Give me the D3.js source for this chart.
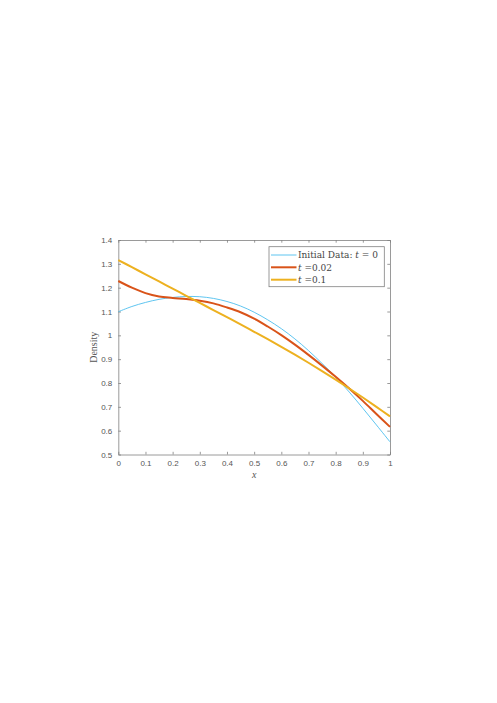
<!DOCTYPE html>
<html lang="en">
<head>
  <meta charset="UTF-8">
  <title>Density at t = 0, 0.02, 0.1</title>
  <script src="https://d3js.org/d3.v7.min.js"></script>
</head>

<body style="margin:0;background:#fff">

<div id="chart"></div>

<script>

// grid points and density values
var xs = [0, 0.05, 0.1, 0.15, 0.2, 0.25, 0.3, 0.35, 0.4, 0.45, 0.5,
          0.55, 0.6, 0.65, 0.7, 0.75, 0.8, 0.85, 0.9, 0.95, 1];
var initialData = [1.099, 1.121, 1.138, 1.151, 1.159, 1.163, 1.162, 1.155, 1.142, 1.123, 1.097,
                   1.065, 1.028, 0.985, 0.936, 0.882, 0.825, 0.762, 0.694, 0.624, 0.553];
var t002 = [1.228, 1.200, 1.177, 1.163, 1.157, 1.152, 1.145, 1.134, 1.117, 1.097, 1.070,
            1.037, 1.001, 0.961, 0.918, 0.873, 0.826, 0.777, 0.725, 0.670, 0.616];
var t01 = [1.316, 1.286, 1.256, 1.226, 1.196, 1.166, 1.136, 1.106, 1.076, 1.046, 1.015,
           0.984, 0.952, 0.919, 0.885, 0.850, 0.814, 0.777, 0.739, 0.700, 0.660];

var xTicks = [0, 0.1, 0.2, 0.3, 0.4, 0.5, 0.6, 0.7, 0.8, 0.9, 1];
var yTicks = [0.5, 0.6, 0.7, 0.8, 0.9, 1, 1.1, 1.2, 1.3, 1.4];

var series = [
  {name: "initial", values: initialData, color: "#4DBEEE", width: 0.9},
  {name: "t002", values: t002, color: "#D95319", width: 2},
  {name: "t01", values: t01, color: "#EDB120", width: 2}
];

var W = 497, H = 703;
var box = {left: 118.3, right: 390, top: 240, bottom: 454.5};
var axisColor = "#808080", textColor = "#555";

var svg = d3.select("#chart").append("svg")
  .attr("width", W)
  .attr("height", H)
  .style("display", "block");

svg.append("rect").attr("width", W).attr("height", H).attr("fill", "#fff");

var x = d3.scaleLinear().domain([0, 1]).range([box.left, box.right]);
var y = d3.scaleLinear().domain([0.5, 1.4]).range([box.bottom, box.top]);

var fmt = d3.format("~g");
var tick = 2.7;

// axes, ticks pointing inwards on all four sides
var gx = svg.append("g").attr("transform", "translate(0," + box.bottom + ")")
  .call(d3.axisBottom(x).tickValues(xTicks).tickFormat(fmt).tickSizeInner(-tick).tickSizeOuter(0).tickPadding(6));
var gxt = svg.append("g").attr("transform", "translate(0," + box.top + ")")
  .call(d3.axisTop(x).tickValues(xTicks).tickFormat("").tickSizeInner(-tick).tickSizeOuter(0));
var gy = svg.append("g").attr("transform", "translate(" + box.left + ",0)")
  .call(d3.axisLeft(y).tickValues(yTicks).tickFormat(fmt).tickSizeInner(-tick).tickSizeOuter(0).tickPadding(6));
var gyr = svg.append("g").attr("transform", "translate(" + box.right + ",0)")
  .call(d3.axisRight(y).tickValues(yTicks).tickFormat("").tickSizeInner(-tick).tickSizeOuter(0));

[gx, gxt, gy, gyr].forEach(function(g) {
  g.select(".domain").attr("stroke", axisColor).attr("stroke-width", 0.8);
  g.selectAll(".tick line").attr("stroke", axisColor).attr("stroke-width", 0.8);
  g.selectAll(".tick text")
    .attr("fill", textColor)
    .style("font-family", "'Liberation Sans', Arial, sans-serif")
    .style("font-size", "8px");
});

// curves
var line = d3.line()
  .x(function(d, i) { return x(xs[i]); })
  .y(function(d) { return y(d); })
  .curve(d3.curveCatmullRom);

svg.append("g").selectAll("path")
  .data(series)
  .join("path")
  .attr("fill", "none")
  .attr("stroke", function(d) { return d.color; })
  .attr("stroke-width", function(d) { return d.width; })
  .attr("stroke-linejoin", "round")
  .attr("d", function(d) { return line(d.values); });

// axis labels
svg.append("text")
  .attr("x", (box.left + box.right) / 2)
  .attr("y", 478)
  .attr("text-anchor", "middle")
  .attr("fill", textColor)
  .style("font-family", "'Liberation Serif', 'DejaVu Serif', serif")
  .style("font-style", "italic")
  .style("font-size", "10px")
  .text("x");

svg.append("text")
  .attr("transform", "translate(97," + ((box.top + box.bottom) / 2) + ") rotate(-90)")
  .attr("text-anchor", "middle")
  .attr("fill", textColor)
  .style("font-family", "'Liberation Serif', 'DejaVu Serif', serif")
  .style("font-size", "10px")
  .text("Density");

// legend
var legend = svg.append("g");
legend.append("rect")
  .attr("x", 269).attr("y", 246.7)
  .attr("width", 115.3).attr("height", 40)
  .attr("fill", "#fff")
  .attr("stroke", axisColor)
  .attr("stroke-width", 0.8);

var labels = [
  [{t: "Initial Data: ", i: false}, {t: "t", i: true}, {t: " = 0", i: false}],
  [{t: "t", i: true}, {t: " =0.02", i: false}],
  [{t: "t", i: true}, {t: " =0.1", i: false}]
];
var rowY = [255, 267.3, 279.7];

series.forEach(function(s, k) {
  legend.append("line")
    .attr("x1", 271).attr("x2", 296.5)
    .attr("y1", rowY[k]).attr("y2", rowY[k])
    .attr("stroke", s.color)
    .attr("stroke-width", s.width);
  var txt = legend.append("text")
    .attr("x", 298).attr("y", rowY[k] + 3.2)
    .attr("fill", "#444")
    .style("font-family", "'DejaVu Serif', 'Liberation Serif', serif")
    .style("font-size", "9px")
    .attr("xml:space", "preserve");
  labels[k].forEach(function(p) {
    txt.append("tspan").style("font-style", p.i ? "italic" : "normal").text(p.t);
  });
});

</script>

</body>
</html>
